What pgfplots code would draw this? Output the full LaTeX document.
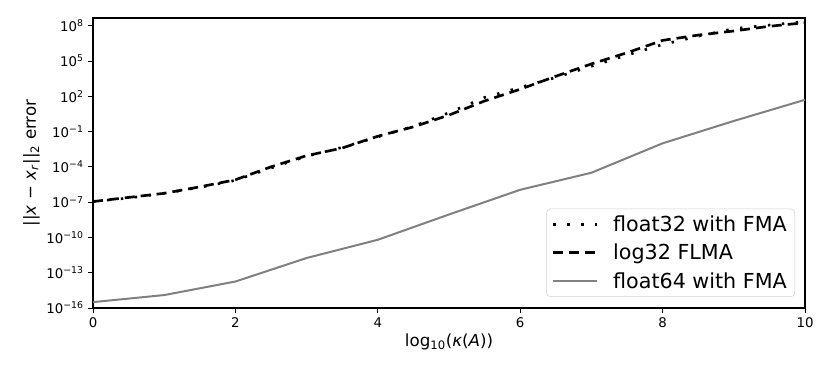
\documentclass[border=0pt]{standalone}
\usepackage{pgfplots}
\pgfplotsset{compat=1.18}
\usepackage{fontspec}
\setmainfont{DejaVu Sans}
\begin{document}
\begin{tikzpicture}
\begin{axis}[
  scale only axis,
  width=534pt, height=217.5pt,
  xmin=0, xmax=10,
  ymode=log, ymin=1e-16, ymax=4.5e8,
  xtick={0,2,4,6,8,10},
  xticklabels={0,2,4,6,8,10},
  ytick={1e-16,1e-13,1e-10,1e-7,1e-4,1e-1,1e2,1e5,1e8},
  yticklabels={10\textsuperscript{−16},10\textsuperscript{−13},10\textsuperscript{−10},10\textsuperscript{−7},10\textsuperscript{−4},10\textsuperscript{−1},10\textsuperscript{2},10\textsuperscript{5},10\textsuperscript{8}},
  minor ytick={}, minor xtick={},
  tick align=outside, tick pos=left,
  major tick length=3.5pt,
  tick style={black, line width=0.6pt},
  axis line style={line width=0.8pt},
  ticklabel style={font=\fontsize{10}{12}\selectfont},
  xlabel={log\textsubscript{10}(\textit{κ}(\textit{A}))},
  ylabel={||\textit{x} − \textit{x}\textsubscript{\textit{r}}||\textsubscript{2} error},
  label style={font=\fontsize{12.5}{15}\selectfont},
  xlabel style={yshift=2pt},
  ylabel style={yshift=-2pt},
  legend style={at={(0.986,0.038)}, anchor=south east, draw=black!18, rounded corners=3pt,
    font=\fontsize{15.5}{18}\selectfont, inner xsep=4pt, inner ysep=3pt, row sep=4pt,
    /tikz/every odd column/.append style={column sep=9pt}},
  legend cell align=left,
  legend image code/.code={\draw[#1] (0pt,0pt) -- (33pt,0pt);},
]
\addplot[black, line width=2pt, dash pattern=on 1.8pt off 8.7pt] coordinates {
(0,1.122e-7) (0.5,2.239e-7) (1,5.623e-7) (1.5,1.778e-6) (2,7.079e-6) (2.5,7.943e-5) (3,7.943e-4) (3.5,4.467e-3) (4,3.548e-2) (4.5,2.818e-1) (5,3.981) (5.5,79.43) (6,562.3) (6.5,3981) (7,3.548e4) (7.5,3.162e5) (8,2.512e6) (8.5,1.259e7) (9,5.623e7) (9.5,1.122e8) (10,2.239e8)
};
\addlegendentry{float32 with FMA}
\addplot[black, line width=2pt, dash pattern=on 7.5pt off 4.5pt] coordinates {
(0,1.122e-7) (0.5,2.512e-7) (1,5.623e-7) (1.5,1.995e-6) (2,7.943e-6) (2.5,1e-4) (3,8.913e-4) (3.5,3.981e-3) (4,3.981e-2) (4.5,2.512e-1) (5,2.512) (5.5,39.81) (6,398.1) (6.5,5012) (7,5.623e4) (7.5,5.012e5) (8,5.623e6) (8.5,1.585e7) (9,3.548e7) (9.5,8.913e7) (10,1.778e8)
};
\addlegendentry{log32 FLMA}
\addplot[color={rgb,255:red,128;green,128;blue,128}, line width=1.5pt] coordinates {
(0,3.162e-16) (1,1.259e-15) (2,1.778e-14) (3,1.778e-12) (4,6.310e-11) (5,8.913e-9) (6,1.122e-6) (7,3.162e-5) (8,1e-2) (9,0.7943) (10,50.12)
};
\addlegendentry{float64 with FMA}
\end{axis}
\path (-69.75pt,-49.5pt) rectangle (552.75pt,231pt);
\end{tikzpicture}
\end{document}
